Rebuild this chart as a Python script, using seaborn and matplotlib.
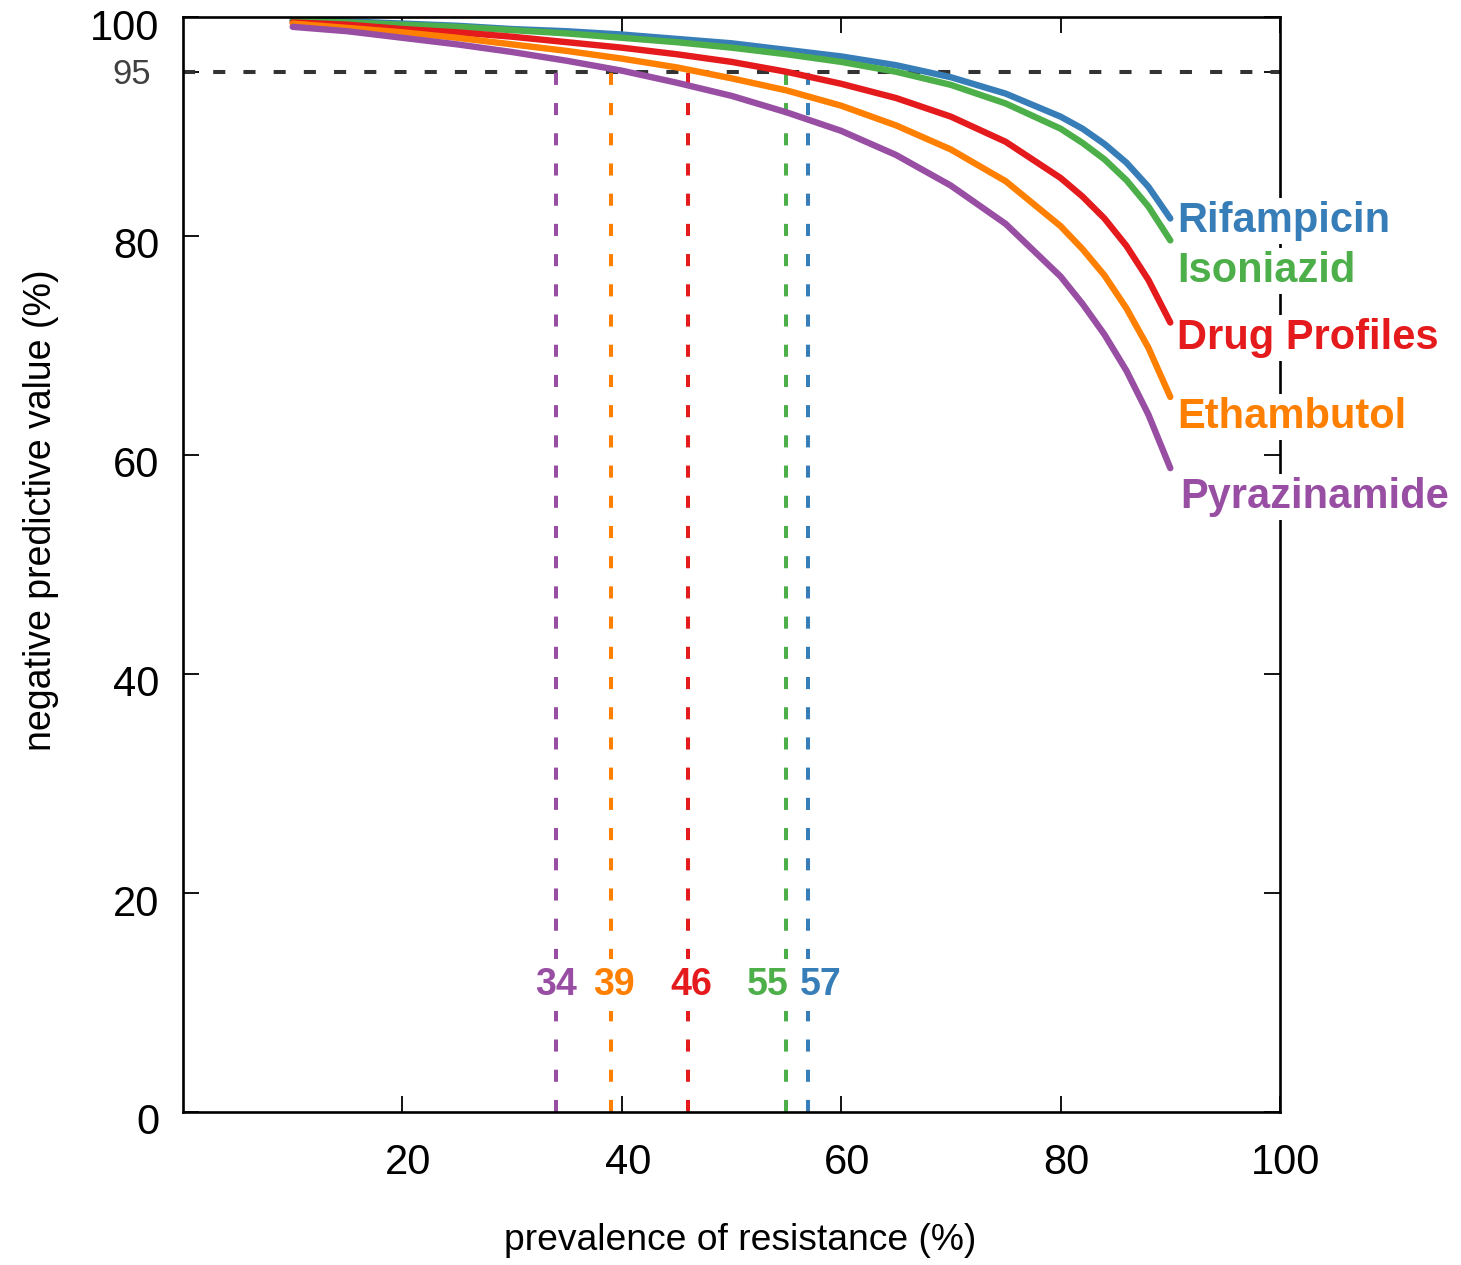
import numpy as np
import pandas as pd
import matplotlib
matplotlib.use("Agg")
import matplotlib.pyplot as plt
import matplotlib.transforms as mtransforms
import seaborn as sns

# ---- data ----
prevalence = [10, 15, 20, 25, 30, 35, 40, 45, 50, 55, 60, 65, 70, 75, 80, 82, 84, 86, 88, 90]
rifampicin = [99.7, 99.6, 99.4, 99.2, 98.9, 98.7, 98.4, 98.0, 97.6, 97.0, 96.4, 95.6, 94.5, 93.0, 90.9, 89.8, 88.4, 86.7, 84.5, 81.6]
isoniazid = [99.7, 99.5, 99.3, 99.1, 98.8, 98.5, 98.1, 97.7, 97.2, 96.6, 95.9, 95.0, 93.8, 92.1, 89.8, 88.5, 87.0, 85.1, 82.7, 79.6]
drug_profiles = [99.5, 99.3, 98.9, 98.6, 98.2, 97.7, 97.2, 96.6, 95.9, 95.0, 93.9, 92.6, 90.9, 88.6, 85.3, 83.6, 81.6, 79.1, 76.0, 72.1]
ethambutol = [99.4, 99.0, 98.6, 98.1, 97.5, 96.9, 96.2, 95.4, 94.4, 93.3, 91.9, 90.1, 87.9, 85.0, 80.9, 78.8, 76.4, 73.4, 69.8, 65.3]
pyrazinamide = [99.1, 98.7, 98.1, 97.5, 96.8, 96.0, 95.1, 94.0, 92.8, 91.3, 89.6, 87.4, 84.6, 81.1, 76.3, 73.8, 71.0, 67.7, 63.7, 58.8]

drugs = ["Rifampicin", "Isoniazid", "Drug Profiles", "Ethambutol", "Pyrazinamide"]
thresholds = [57, 55, 46, 39, 34]          # prevalence where NPV reaches 95%
npv_cutoff = 95

x_ticks = [20, 40, 60, 80, 100]
y_ticks = [0, 20, 40, 60, 80, 100]

# ---- styles / positions ----
colors = {"Rifampicin": "#377eb8", "Isoniazid": "#4daf4a", "Drug Profiles": "#e41a1c",
          "Ethambutol": "#ff7f00", "Pyrazinamide": "#984ea3"}
name_label_y = [81.4, 76.8, 70.7, 63.5, 56.2]
name_label_x = [90.6, 90.6, 90.6, 90.6, 90.9]
thr_label_x = [58.1, 53.3, 46.3, 39.3, 34.0]
thr_label_y = 11.6

series = [rifampicin, isoniazid, drug_profiles, ethambutol, pyrazinamide]
df = pd.DataFrame({
    "prevalence": np.tile(prevalence, len(drugs)),
    "npv": np.concatenate(series),
    "drug": np.repeat(drugs, len(prevalence)),
})

sns.set_theme(style="ticks")
plt.rcParams["font.family"] = ["Liberation Sans", "DejaVu Sans"]

fig = plt.figure(figsize=(14.61, 12.65), dpi=100)
ax = fig.add_axes([183 / 1461, 1 - 1112 / 1265, 1097 / 1461, 1095 / 1265])

dash = (0, (3, 4.5))
ax.axhline(npv_cutoff, color="#333333", lw=2.9, ls=dash, zorder=1)
ax.vlines(thresholds, 0, npv_cutoff, colors=[colors[d] for d in drugs],
          linestyles=[dash] * len(drugs), lw=2.9, zorder=1)

sns.lineplot(data=df, x="prevalence", y="npv", hue="drug", palette=colors,
             hue_order=drugs, linewidth=4.6, ax=ax, legend=False, sort=False,
             estimator=None, zorder=2)

for d, lx, ly in zip(drugs, name_label_x, name_label_y):
    ax.text(lx, ly, d, color=colors[d], fontsize=30, fontweight="bold",
            ha="left", va="center", zorder=5, clip_on=False,
            bbox=dict(facecolor="white", edgecolor="none", pad=2))

for d, t, lx in zip(drugs, thresholds, thr_label_x):
    ax.text(lx, thr_label_y, str(t), color=colors[d], fontsize=27,
            fontweight="bold", ha="center", va="center", zorder=5,
            bbox=dict(facecolor="white", edgecolor="none", pad=6))

ax.set_xlim(0, 100)
ax.set_ylim(0, 100)
ax.set_xticks(x_ticks)
ax.set_xticklabels([str(v) for v in x_ticks])
ax.set_yticks(y_ticks + [npv_cutoff])
ax.set_yticklabels([str(v) for v in y_ticks] + [str(npv_cutoff)])

ax.tick_params(direction="in", length=11.5, width=1.3, color="black",
               labelsize=30, labelcolor="black", top=True, right=True)
ax.tick_params(axis="x", pad=22)
ax.tick_params(axis="y", pad=17)

for sp in ax.spines.values():
    sp.set_linewidth(1.9)
    sp.set_color("black")
    sp.set_zorder(3)

off_x = mtransforms.ScaledTranslation(6 / 100, 0, fig.dpi_scale_trans)
for lab in ax.get_xticklabels():
    lab.set_transform(lab.get_transform() + off_x)
off_y = mtransforms.ScaledTranslation(0, -7 / 100, fig.dpi_scale_trans)
off_95 = mtransforms.ScaledTranslation(-8 / 100, 1 / 100, fig.dpi_scale_trans)
for lab in ax.get_yticklabels():
    if lab.get_text() == str(npv_cutoff):
        lab.set_color("#404040")
        lab.set_fontsize(25)
        lab.set_transform(lab.get_transform() + off_95)
    else:
        lab.set_transform(lab.get_transform() + off_y)

ax.set_xlabel("prevalence of resistance (%)", fontsize=26.8, color="black")
ax.set_ylabel("negative predictive value (%)", fontsize=27, color="black")
ax.xaxis.set_label_coords(0.508, -0.101)
ax.yaxis.set_label_coords(-0.113, 0.55)

fig.savefig("out.png", dpi=100, facecolor="white")
